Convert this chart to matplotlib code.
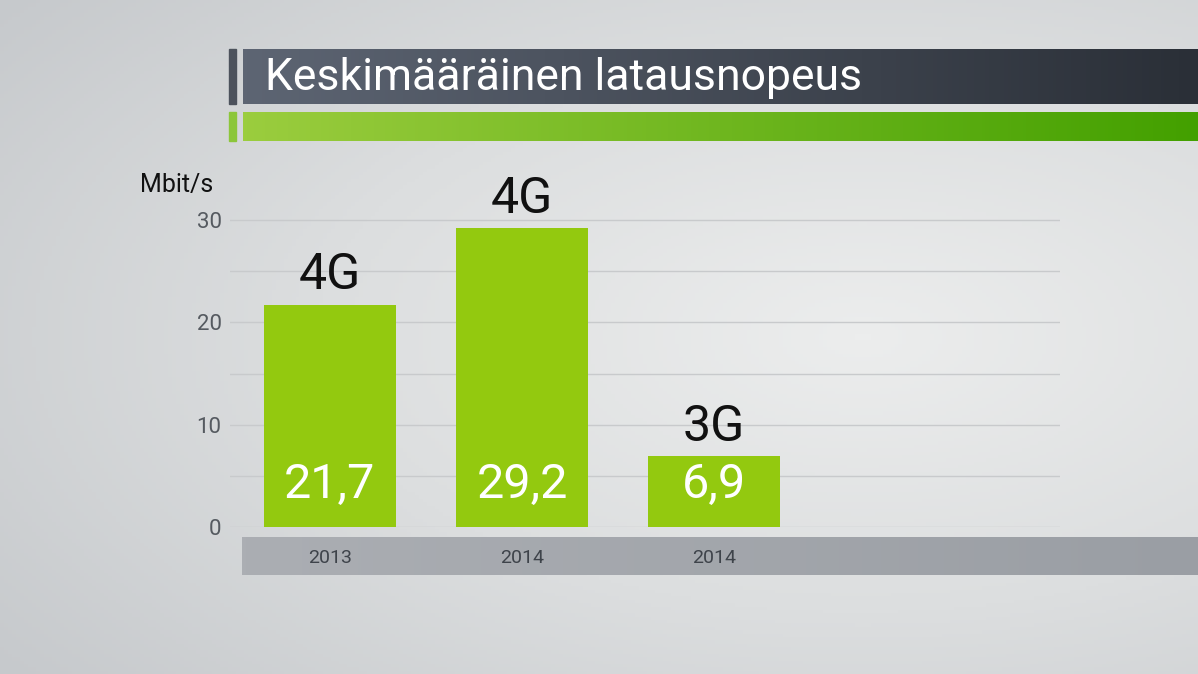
import numpy as np
import matplotlib
matplotlib.use("Agg")
import matplotlib.pyplot as plt
from matplotlib.colors import LinearSegmentedColormap

plt.rcParams['font.family'] = ['Roboto', 'DejaVu Sans']

# data
years = ["2013", "2014", "2014"]
tech = ["4G", "4G", "3G"]
speed = [21.7, 29.2, 6.9]
speed_labels = ["21,7", "29,2", "6,9"]
y_ticks = [0, 10, 20, 30]
title = "Keskimääräinen latausnopeus"
unit = "Mbit/s"

W, H = 1198, 674
fig = plt.figure(figsize=(W / 100, H / 100), dpi=100)

# background gradient
bg = fig.add_axes([0, 0, 1, 1], zorder=-10)
yy, xx = np.mgrid[0:1:200j, 0:1:300j]
r = np.sqrt(((xx - 0.72) / 1.0) ** 2 + ((yy - 0.5) / 0.9) ** 2)
bg_cmap = LinearSegmentedColormap.from_list("bg", ["#eceded", "#dcdedf", "#c6c9cc"])
bg.imshow(r, cmap=bg_cmap, aspect="auto", extent=[0, 1, 0, 1], origin="lower")
bg.set_xlim(0, 1)
bg.set_ylim(0, 1)
bg.axis("off")

# title bar
hbar = np.linspace(0, 1, 256).reshape(1, -1)
tb = fig.add_axes([243 / W, 1 - 104 / H, 1 - 243 / W, 55 / H])
tb.imshow(hbar, cmap=LinearSegmentedColormap.from_list("t", ["#5d6573", "#2a2f37"]),
          aspect="auto", extent=[0, 1, 0, 1])
tb.axis("off")
fig.patches.append(plt.Rectangle((229 / W, 1 - 104 / H), 7 / W, 55 / H,
                                 transform=fig.transFigure, color="#4c525c"))
fig.text(265 / W, 1 - 78 / H, title, color="white", fontsize=32, va="center", ha="left")

# green bar
gb = fig.add_axes([243 / W, 1 - 141 / H, 1 - 243 / W, 29 / H])
gb.imshow(hbar, cmap=LinearSegmentedColormap.from_list("g", ["#9bcd3e", "#43a000"]),
          aspect="auto", extent=[0, 1, 0, 1])
gb.axis("off")
fig.patches.append(plt.Rectangle((229 / W, 1 - 141 / H), 7 / W, 29 / H,
                                 transform=fig.transFigure, color="#8cc63a"))

# year band
yb = fig.add_axes([242 / W, 1 - 575 / H, 1 - 242 / W, 38 / H], zorder=-5)
yb.imshow(hbar, cmap=LinearSegmentedColormap.from_list("y", ["#abaeb3", "#9a9ea4"]),
          aspect="auto", extent=[0, 1, 0, 1])
yb.axis("off")

# main chart
ax = fig.add_axes([230 / W, 1 - 527 / H, 830 / W, 32 * 10.23 / H])
ax.patch.set_alpha(0)
x = np.arange(len(speed))
bars = ax.bar(x, speed, width=0.69, color="#93c90f", zorder=3)
ax.set_xlim(-0.52, 3.8)
ax.set_ylim(0, 32)
ax.set_yticks(y_ticks)
ax.set_yticks([5, 15, 25], minor=True)
ax.grid(axis="y", which="both", color="#c8cacc", linewidth=1, zorder=0)
ax.tick_params(axis="y", which="both", length=0, pad=6, labelsize=16, labelcolor="#555a60")
ax.set_xticks(x, years)
ax.tick_params(axis="x", length=0, pad=16, labelsize=14, labelcolor="#3e434a")
for sp in ax.spines.values():
    sp.set_visible(False)

for b, t, lbl in zip(bars, tech, speed_labels):
    cx = b.get_x() + b.get_width() / 2
    ax.annotate(t, (cx, b.get_height()), xytext=(0, 4), textcoords="offset points",
                ha="center", va="bottom", fontsize=36, color="#111111")
    ax.annotate(lbl, (cx, 0), xytext=(0, 14), textcoords="offset points",
                ha="center", va="bottom", fontsize=35, color="white", zorder=4)

fig.text(140 / W, 1 - 185 / H, unit, fontsize=18, color="#111111", va="center", ha="left")

fig.savefig("out.png", dpi=100)
